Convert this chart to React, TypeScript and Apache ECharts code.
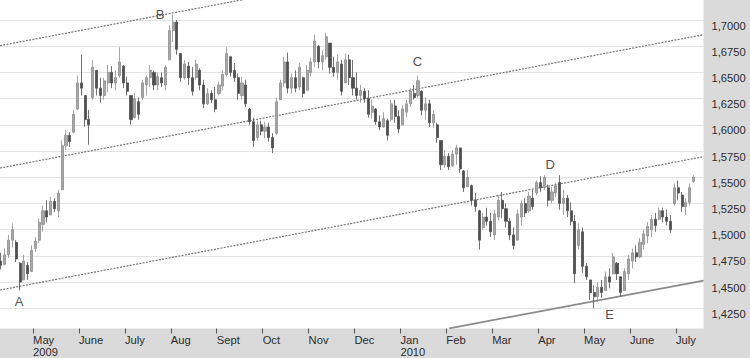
import React, { useEffect, useRef } from 'react';
import * as echarts from 'echarts';

const FONT = '"Liberation Sans", Arial, Helvetica, sans-serif';

// x axis: months (0 = May 2009)
const monthTicks = [0, 1, 2, 3, 4, 5, 6, 7, 8, 9, 10, 11, 12, 13, 14];
const monthLabels = ['May\n2009', 'June', 'July', 'Aug', 'Sept', 'Oct', 'Nov', 'Dec', 'Jan\n2010', 'Feb', 'Mar', 'Apr', 'May', 'June', 'July'];
const X_MIN = -0.72;
const X_MAX = 14.6;

// y axis
const yTicks = [1.425, 1.45, 1.475, 1.5, 1.525, 1.55, 1.575, 1.6, 1.625, 1.65, 1.675, 1.7];
const yTickLabels = ['1,4250', '1,4500', '1,4750', '1,5000', '1,5250', '1,5500', '1,5750', '1,6000', '1,6250', '1,6500', '1,6750', '1,7000'];
const Y_MIN = 1.4057;
const Y_MAX = 1.7191;

// bars: first bar date (in months relative to May 2009) and bars per month
const firstBarMonth = -0.7;
const barsPerMonth = 12;

const opens = [
  1.470, 1.467, 1.476, 1.490, 1.488, 1.468, 1.452, 1.466, 1.460, 1.482,
  1.490, 1.505, 1.518, 1.514, 1.527, 1.518, 1.538, 1.580, 1.590, 1.593,
  1.615, 1.640, 1.628, 1.605, 1.626, 1.652, 1.635, 1.628, 1.640, 1.650,
  1.640, 1.647, 1.656, 1.640, 1.628, 1.607, 1.622, 1.626, 1.638, 1.645,
  1.650, 1.638, 1.645, 1.638, 1.662, 1.690, 1.698, 1.668, 1.645, 1.656,
  1.645, 1.645, 1.652, 1.638, 1.620, 1.630, 1.624, 1.630, 1.637, 1.648,
  1.665, 1.652, 1.645, 1.628, 1.638, 1.615, 1.603, 1.588, 1.600, 1.594,
  1.598, 1.588, 1.592, 1.624, 1.640, 1.660, 1.635, 1.645, 1.636, 1.645,
  1.633, 1.650, 1.660, 1.675, 1.660, 1.665, 1.678, 1.655, 1.650, 1.658,
  1.640, 1.662, 1.645, 1.635, 1.628, 1.632, 1.625, 1.612, 1.615, 1.603,
  1.598, 1.604, 1.605, 1.618, 1.608, 1.600, 1.612, 1.620, 1.630, 1.628,
  1.632, 1.614, 1.620, 1.602, 1.600, 1.585, 1.562, 1.570, 1.561, 1.572,
  1.578, 1.556, 1.541, 1.542, 1.528, 1.518, 1.502, 1.512, 1.508, 1.495,
  1.512, 1.528, 1.520, 1.508, 1.495, 1.490, 1.512, 1.525, 1.518, 1.530,
  1.535, 1.545, 1.540, 1.540, 1.528, 1.535, 1.545, 1.525, 1.530, 1.518,
  1.508, 1.485, 1.498, 1.465, 1.452, 1.440, 1.436, 1.445, 1.442, 1.455,
  1.458, 1.468, 1.455, 1.442, 1.458, 1.470, 1.478, 1.474, 1.486, 1.494,
  1.500, 1.510, 1.510, 1.518, 1.512, 1.508, 1.525, 1.540, 1.533, 1.522,
  1.526, 1.546,
];
const closes = [
  1.466, 1.476, 1.490, 1.500, 1.472, 1.450, 1.470, 1.458, 1.480, 1.489,
  1.507, 1.518, 1.512, 1.527, 1.520, 1.535, 1.580, 1.590, 1.584, 1.610,
  1.640, 1.635, 1.605, 1.600, 1.655, 1.635, 1.628, 1.642, 1.650, 1.640,
  1.645, 1.660, 1.640, 1.632, 1.605, 1.625, 1.610, 1.640, 1.645, 1.652,
  1.638, 1.646, 1.640, 1.655, 1.690, 1.698, 1.672, 1.645, 1.658, 1.645,
  1.632, 1.658, 1.638, 1.620, 1.630, 1.624, 1.615, 1.638, 1.648, 1.668,
  1.650, 1.645, 1.630, 1.640, 1.620, 1.603, 1.585, 1.600, 1.594, 1.598,
  1.588, 1.578, 1.622, 1.640, 1.660, 1.635, 1.645, 1.635, 1.655, 1.630,
  1.652, 1.660, 1.680, 1.660, 1.666, 1.684, 1.655, 1.650, 1.660, 1.632,
  1.662, 1.645, 1.635, 1.628, 1.633, 1.625, 1.610, 1.618, 1.603, 1.598,
  1.606, 1.590, 1.620, 1.608, 1.596, 1.615, 1.620, 1.632, 1.626, 1.642,
  1.614, 1.620, 1.602, 1.610, 1.588, 1.562, 1.570, 1.560, 1.572, 1.578,
  1.558, 1.540, 1.550, 1.528, 1.522, 1.490, 1.512, 1.508, 1.498, 1.515,
  1.528, 1.520, 1.508, 1.495, 1.485, 1.515, 1.525, 1.516, 1.532, 1.522,
  1.545, 1.540, 1.550, 1.528, 1.536, 1.542, 1.525, 1.530, 1.518, 1.508,
  1.458, 1.500, 1.465, 1.455, 1.440, 1.436, 1.445, 1.440, 1.455, 1.450,
  1.474, 1.458, 1.440, 1.460, 1.472, 1.478, 1.474, 1.488, 1.496, 1.503,
  1.510, 1.504, 1.518, 1.512, 1.508, 1.500, 1.540, 1.535, 1.522, 1.526,
  1.540, 1.550,
];
const lows = [
  1.462, 1.466, 1.473, 1.483, 1.469, 1.442, 1.452, 1.452, 1.460, 1.479,
  1.487, 1.498, 1.507, 1.514, 1.517, 1.512, 1.538, 1.576, 1.579, 1.592,
  1.614, 1.628, 1.598, 1.581, 1.624, 1.628, 1.621, 1.624, 1.631, 1.635,
  1.633, 1.645, 1.635, 1.628, 1.600, 1.606, 1.605, 1.624, 1.628, 1.636,
  1.633, 1.633, 1.636, 1.633, 1.662, 1.679, 1.667, 1.641, 1.643, 1.638,
  1.628, 1.643, 1.633, 1.616, 1.619, 1.621, 1.612, 1.628, 1.633, 1.646,
  1.646, 1.641, 1.624, 1.624, 1.617, 1.600, 1.579, 1.585, 1.590, 1.587,
  1.584, 1.573, 1.590, 1.624, 1.636, 1.630, 1.630, 1.631, 1.633, 1.626,
  1.633, 1.646, 1.655, 1.654, 1.652, 1.662, 1.649, 1.646, 1.643, 1.628,
  1.640, 1.638, 1.628, 1.624, 1.621, 1.621, 1.607, 1.606, 1.600, 1.595,
  1.597, 1.585, 1.603, 1.602, 1.592, 1.600, 1.607, 1.617, 1.624, 1.626,
  1.609, 1.605, 1.598, 1.597, 1.583, 1.557, 1.559, 1.557, 1.560, 1.562,
  1.554, 1.536, 1.541, 1.523, 1.517, 1.481, 1.500, 1.504, 1.493, 1.490,
  1.509, 1.511, 1.502, 1.490, 1.481, 1.490, 1.504, 1.512, 1.516, 1.519,
  1.533, 1.536, 1.538, 1.522, 1.525, 1.531, 1.519, 1.514, 1.512, 1.504,
  1.449, 1.481, 1.459, 1.452, 1.433, 1.425, 1.431, 1.435, 1.442, 1.444,
  1.457, 1.452, 1.436, 1.442, 1.452, 1.463, 1.469, 1.473, 1.481, 1.487,
  1.493, 1.498, 1.509, 1.507, 1.504, 1.497, 1.523, 1.528, 1.517, 1.514,
  1.523, 1.545,
];
const highs = [
  1.478, 1.482, 1.495, 1.506, 1.490, 1.469, 1.476, 1.469, 1.485, 1.493,
  1.511, 1.523, 1.528, 1.531, 1.530, 1.538, 1.585, 1.595, 1.593, 1.614,
  1.647, 1.667, 1.628, 1.614, 1.662, 1.652, 1.645, 1.645, 1.657, 1.656,
  1.652, 1.674, 1.657, 1.646, 1.628, 1.631, 1.626, 1.643, 1.647, 1.657,
  1.652, 1.650, 1.650, 1.657, 1.695, 1.705, 1.700, 1.668, 1.662, 1.660,
  1.655, 1.662, 1.654, 1.643, 1.635, 1.633, 1.636, 1.641, 1.652, 1.674,
  1.665, 1.659, 1.649, 1.646, 1.643, 1.616, 1.607, 1.604, 1.604, 1.603,
  1.602, 1.592, 1.626, 1.643, 1.665, 1.669, 1.649, 1.652, 1.659, 1.646,
  1.657, 1.664, 1.686, 1.676, 1.671, 1.688, 1.678, 1.665, 1.667, 1.662,
  1.668, 1.667, 1.662, 1.650, 1.638, 1.635, 1.633, 1.624, 1.616, 1.609,
  1.612, 1.606, 1.624, 1.624, 1.614, 1.619, 1.624, 1.635, 1.638, 1.647,
  1.633, 1.626, 1.624, 1.614, 1.602, 1.585, 1.576, 1.573, 1.576, 1.581,
  1.578, 1.557, 1.557, 1.543, 1.535, 1.519, 1.516, 1.521, 1.516, 1.519,
  1.533, 1.536, 1.525, 1.511, 1.502, 1.519, 1.528, 1.530, 1.536, 1.538,
  1.547, 1.551, 1.552, 1.543, 1.541, 1.545, 1.552, 1.538, 1.533, 1.526,
  1.514, 1.506, 1.502, 1.468, 1.452, 1.447, 1.450, 1.452, 1.460, 1.463,
  1.478, 1.469, 1.455, 1.463, 1.476, 1.482, 1.485, 1.492, 1.500, 1.507,
  1.514, 1.516, 1.521, 1.521, 1.519, 1.514, 1.544, 1.547, 1.536, 1.530,
  1.544, 1.552,
];

// trend lines: [month, price] anchor pairs
const channelLower = [[-0.72, 1.4424], [14.6, 1.5696]];
const channelMiddle = [[-0.72, 1.5588], [14.6, 1.6860]];
const channelUpper = [[-0.72, 1.6755], [14.6, 1.8027]];
const supportLine = [[9.063, 1.4059], [14.6, 1.4513]];

// pivot labels
const pivotNames = ['A', 'B', 'C', 'D', 'E'];
const pivotMonths = [-0.305, 2.767, 8.373, 11.264, 12.556];
const pivotPrices = [1.431, 1.7048, 1.6602, 1.5626, 1.4192];

export default function App() {
  const ref = useRef<HTMLDivElement>(null);
  useEffect(() => {
    document.body.style.margin = '0';
    const chart = echarts.init(ref.current!, null, { renderer: 'svg' });
    const candles = opens.map((o, i) => [firstBarMonth + i / barsPerMonth, o, closes[i], lows[i], highs[i]]);
    const dotted = { type: [2, 1.3], color: '#767676', width: 1.2 };
    const trend = (data: number[][], style: any) => ({
      type: 'line', data, symbol: 'none', lineStyle: style, clip: true, z: 2, silent: true,
    });
    chart.setOption({
      animation: false,
      backgroundColor: '#dadada',
      grid: { left: 0, right: 46.5, top: 0, bottom: 29.5, show: true, backgroundColor: '#ffffff', borderWidth: 0 },
      xAxis: {
        type: 'value', min: X_MIN, max: X_MAX,
        axisLine: { show: false },
        splitLine: { show: false },
        axisTick: { show: true, length: 5, lineStyle: { color: '#555', width: 1 }, customValues: monthTicks },
        axisLabel: {
          customValues: monthTicks,
          formatter: (v: number) => monthLabels[Math.round(v)] ?? '',
          align: 'left', verticalAlign: 'top', margin: 6,
          fontSize: 11.2, lineHeight: 11.5, color: '#2a2a2a', fontFamily: FONT,
        },
      },
      yAxis: {
        type: 'value', position: 'right', min: Y_MIN, max: Y_MAX,
        axisLine: { show: false },
        axisTick: { show: false, customValues: yTicks },
        splitLine: { show: true, lineStyle: { color: '#e4e4e4', width: 1 } },
        axisLabel: {
          customValues: yTicks,
          formatter: (v: number) => {
            const k = yTicks.findIndex((t) => Math.abs(t - v) < 1e-6);
            return k >= 0 ? yTickLabels[k] : '';
          },
          align: 'left', verticalAlign: 'top', margin: 8,
          fontSize: 11.2, color: '#2a2a2a', fontFamily: FONT,
        },
      },
      series: [
        trend(channelUpper, dotted),
        trend(channelMiddle, dotted),
        trend(channelLower, dotted),
        trend(supportLine, { type: 'solid', color: '#8a8a8a', width: 1.8 }),
        {
          type: 'candlestick',
          data: candles,
          encode: { x: 0, y: [1, 2, 3, 4] },
          barWidth: 2.6,
          z: 3,
          itemStyle: {
            color: '#a8a8a8', color0: '#4f4f4f',
            borderColor: '#8e8e8e', borderColor0: '#4f4f4f', borderWidth: 0.8,
          },
        },
        {
          type: 'scatter',
          data: pivotNames.map((n, i) => ({ name: n, value: [pivotMonths[i], pivotPrices[i]] })),
          symbolSize: 1,
          itemStyle: { color: 'rgba(0,0,0,0)' },
          z: 5,
          label: {
            show: true, position: 'inside', formatter: '{b}',
            fontSize: 13, color: '#222', fontFamily: FONT,
          },
        },
      ],
    });
    return () => chart.dispose();
  }, []);
  return <div ref={ref} style={{ width: 750, height: 358 }} />;
}
